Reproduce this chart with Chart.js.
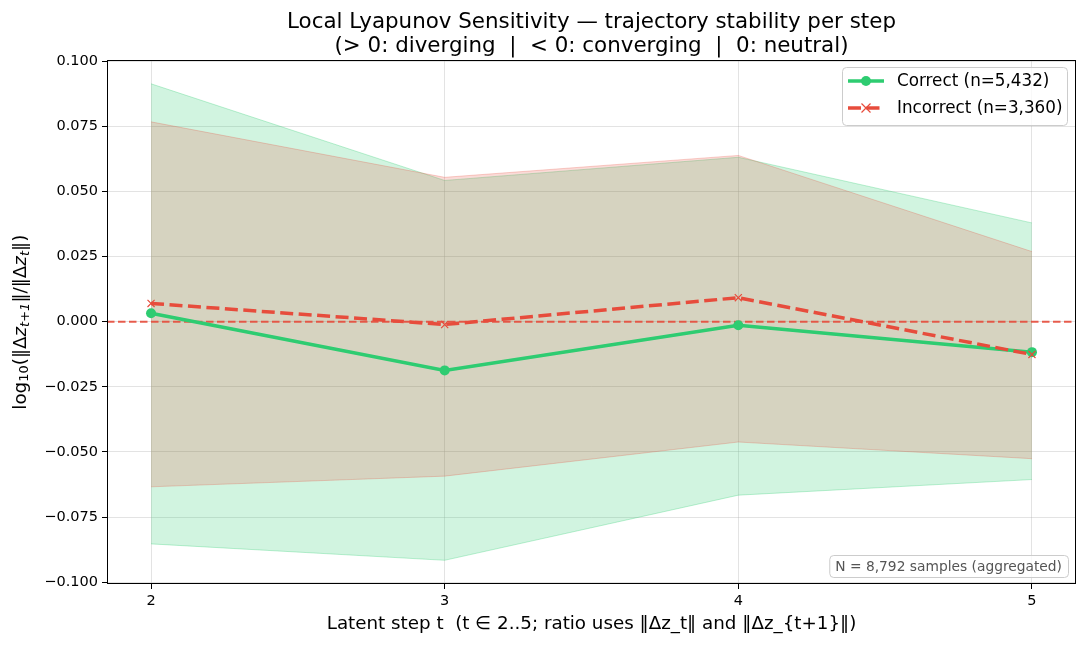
<!DOCTYPE html>
<html>
<head>
<meta charset="utf-8">
<script src="https://cdn.jsdelivr.net/npm/chart.js@4.4.1/dist/chart.umd.min.js"></script>
<style>
  html, body { margin: 0; padding: 0; background: #fff; }
  #wrap { width: 1086px; height: 645px; }
</style>
</head>
<body>
<div id="wrap"><canvas id="lyap"></canvas></div>
<script>
const steps = [2, 3, 4, 5];
const correctMean = [0.0032, -0.0187, -0.0014, -0.0117];
const correctUpper = [0.0913, 0.0542, 0.0631, 0.0379];
const correctLower = [-0.0853, -0.0916, -0.0666, -0.0606];
const incorrectMean = [0.0070, -0.0011, 0.0092, -0.0126];
const incorrectUpper = [0.0767, 0.0554, 0.0638, 0.0269];
const incorrectLower = [-0.0634, -0.0593, -0.0462, -0.0526];
const yTicks = [-0.1, -0.075, -0.05, -0.025, 0, 0.025, 0.05, 0.075, 0.1];
const xTicks = [2, 3, 4, 5];
const X_MIN = 1.85, X_MAX = 5.15;

const GREEN = '#2ecc71';
const RED = '#e74c3c';
const FONT = "'DejaVu Sans', sans-serif";

const pts = arr => steps.map((s, i) => ({ x: s, y: arr[i] }));
const fmtTick = v => (Math.abs(v) < 1e-9 ? '0.000' : v.toFixed(3).replace('-', '\u2212'));

// legend, frame, y label and note box
const decor = {
  id: 'decor',
  afterDraw(chart) {
    const { ctx, chartArea: a } = chart;
    ctx.save();
    // frame
    ctx.strokeStyle = '#000';
    ctx.lineWidth = 1;
    ctx.strokeRect(Math.round(a.left) + 0.5, Math.round(a.top) + 0.5,
      Math.round(a.right - a.left) - 1, Math.round(a.bottom - a.top) - 1);

    // legend
    const lx = 842, ly = 67, lw = 225, lh = 58;
    ctx.fillStyle = 'rgba(255,255,255,0.8)';
    ctx.strokeStyle = '#cccccc';
    ctx.beginPath();
    ctx.roundRect(lx + 0.5, ly + 0.5, lw, lh, 4);
    ctx.fill();
    ctx.stroke();
    ctx.font = `16.8px ${FONT}`;
    ctx.textBaseline = 'middle';
    // correct entry
    let ry = 81;
    ctx.strokeStyle = GREEN; ctx.lineWidth = 3.5; ctx.setLineDash([]);
    ctx.beginPath(); ctx.moveTo(848, ry); ctx.lineTo(884, ry); ctx.stroke();
    ctx.fillStyle = GREEN;
    ctx.beginPath(); ctx.arc(866, ry, 5, 0, Math.PI * 2); ctx.fill();
    ctx.fillStyle = '#000';
    ctx.fillText('Correct (n=5,432)', 897, ry + 1);
    // incorrect entry
    ry = 108;
    ctx.strokeStyle = RED; ctx.lineWidth = 3.5; ctx.setLineDash([13, 5.5]);
    ctx.beginPath(); ctx.moveTo(848, ry); ctx.lineTo(884, ry); ctx.stroke();
    ctx.setLineDash([]);
    ctx.lineWidth = 1.2;
    ctx.beginPath();
    ctx.moveTo(861.5, ry - 4.5); ctx.lineTo(870.5, ry + 4.5);
    ctx.moveTo(870.5, ry - 4.5); ctx.lineTo(861.5, ry + 4.5);
    ctx.stroke();
    ctx.fillStyle = '#000';
    ctx.fillText('Incorrect (n=3,360)', 897, ry + 1);

    // note box
    ctx.font = `13.8px ${FONT}`;
    const note = 'N = 8,792 samples (aggregated)';
    const tw = ctx.measureText(note).width;
    const bx = a.right - 8 - tw - 12, by = 555;
    ctx.fillStyle = 'rgba(255,255,255,0.8)';
    ctx.strokeStyle = '#cccccc';
    ctx.lineWidth = 1;
    ctx.beginPath();
    ctx.roundRect(bx + 0.5, by + 0.5, tw + 12, 22, 4);
    ctx.fill(); ctx.stroke();
    ctx.fillStyle = '#555';
    ctx.textAlign = 'left';
    ctx.fillText(note, bx + 6, by + 12);

    // y axis label with subscripts
    const cy = (a.top + a.bottom) / 2;
    ctx.translate(21, cy);
    ctx.rotate(-Math.PI / 2);
    const big = `18.3px ${FONT}`, bigI = `italic 18.3px ${FONT}`;
    const sm = `13px ${FONT}`, smI = `italic 13px ${FONT}`;
    const parts = [
      ['log', big, 0], ['10', sm, 4], ['(\u2016\u0394', big, 0], ['z', bigI, 0],
      ['t+1', smI, 4.5], ['\u2016/\u2016\u0394', big, 0], ['z', bigI, 0], ['t', smI, 4.5], ['\u2016)', big, 0]
    ];
    let total = 0;
    parts.forEach(p => { ctx.font = p[1]; total += ctx.measureText(p[0]).width; });
    let x = -total / 2;
    ctx.fillStyle = '#000';
    ctx.textBaseline = 'middle';
    parts.forEach(p => {
      ctx.font = p[1];
      ctx.fillText(p[0], x, p[2]);
      x += ctx.measureText(p[0]).width;
    });
    ctx.restore();
  }
};

new Chart(document.getElementById('lyap').getContext('2d'), {
  type: 'line',
  data: {
    datasets: [
      {
        label: 'Incorrect (n=3,360)', data: pts(incorrectMean),
        borderColor: RED, backgroundColor: RED, borderWidth: 3.5, borderDash: [13, 5.5],
        pointStyle: 'crossRot', pointRadius: 5, pointBorderWidth: 1.2, pointBorderColor: RED, fill: false
      },
      {
        label: 'Correct (n=5,432)', data: pts(correctMean),
        borderColor: GREEN, backgroundColor: GREEN, borderWidth: 3.5,
        pointStyle: 'circle', pointRadius: 5, pointBorderWidth: 0, fill: false
      },
      {
        label: 'zero', data: [{ x: X_MIN, y: 0 }, { x: X_MAX, y: 0 }],
        borderColor: 'rgba(231,76,60,0.9)', borderWidth: 2, borderDash: [7.5, 3.5],
        pointRadius: 0, fill: false
      },
      {
        label: 'incorrect upper', data: pts(incorrectUpper),
        borderColor: 'rgba(231,76,60,0.25)', borderWidth: 1, pointRadius: 0,
        backgroundColor: 'rgba(231,76,60,0.2)', fill: '+1'
      },
      {
        label: 'incorrect lower', data: pts(incorrectLower),
        borderColor: 'rgba(231,76,60,0.25)', borderWidth: 1, pointRadius: 0, fill: false
      },
      {
        label: 'correct upper', data: pts(correctUpper),
        borderColor: 'rgba(46,204,113,0.3)', borderWidth: 1, pointRadius: 0,
        backgroundColor: 'rgba(46,204,113,0.22)', fill: '+1'
      },
      {
        label: 'correct lower', data: pts(correctLower),
        borderColor: 'rgba(46,204,113,0.3)', borderWidth: 1, pointRadius: 0, fill: false
      }
    ]
  },
  options: {
    responsive: true,
    maintainAspectRatio: false,
    animation: false,
    layout: { padding: { left: 0, right: 10, top: 0, bottom: 0 } },
    plugins: {
      legend: { display: false },
      tooltip: { enabled: false },
      title: {
        display: true,
        fullSize: false,
        text: ['Local Lyapunov Sensitivity \u2014 trajectory stability per step',
               '(> 0: diverging  |  < 0: converging  |  0: neutral)'],
        color: '#000',
        font: { family: FONT, size: 21.4, weight: 'normal', lineHeight: 1.13 },
        padding: { top: 10, bottom: 2 }
      }
    },
    scales: {
      x: {
        type: 'linear', min: X_MIN, max: X_MAX,
        afterBuildTicks: axis => { axis.ticks = xTicks.map(v => ({ value: v })); },
        afterFit: scale => { scale.height = 61; },
        ticks: { color: '#000', font: { family: FONT, size: 14.5 }, padding: 4, callback: v => String(v) },
        grid: { color: 'rgba(176,176,176,0.35)', tickColor: '#000', tickLength: 5, tickWidth: 1 },
        border: { display: false },
        title: {
          display: true,
          text: 'Latent step t  (t \u2208 2..5; ratio uses \u2016\u0394z_t\u2016 and \u2016\u0394z_{t+1}\u2016)',
          color: '#000', font: { family: FONT, size: 18.3 }, padding: { top: 0, bottom: 10 }
        }
      },
      y: {
        type: 'linear', min: -0.1007, max: 0.1003,
        afterBuildTicks: axis => { axis.ticks = yTicks.map(v => ({ value: v })); },
        afterFit: scale => { scale.width = 107; },
        ticks: { color: '#000', font: { family: FONT, size: 14.5 }, padding: 4, callback: v => fmtTick(v) },
        grid: { color: 'rgba(176,176,176,0.35)', tickColor: '#000', tickLength: 5, tickWidth: 1 },
        border: { display: false }
      }
    }
  },
  plugins: [decor]
});
</script>
</body>
</html>
